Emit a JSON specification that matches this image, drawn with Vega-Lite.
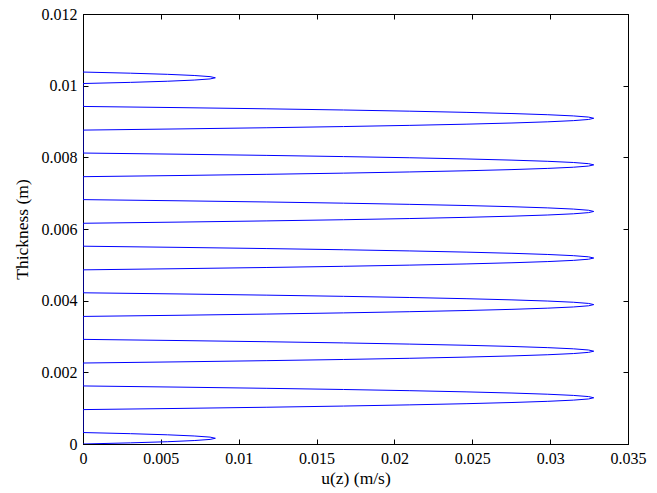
{
  "$schema": "https://vega.github.io/schema/vega-lite/v6.json",
  "width": 545,
  "height": 430,
  "autosize": "none",
  "padding": {"left": 83, "top": 14, "right": 29, "bottom": 49},
  "background": "white",
  "config": {
    "view": {"stroke": "black", "strokeWidth": 1},
    "axis": {
      "labelFontSize": 16,
      "titleFontSize": 17.5,
      "titleFontWeight": "normal",
      "labelColor": "black",
      "titleColor": "black",
      "domainColor": "black",
      "tickColor": "black",
      "grid": false,
      "tickSize": -5,
      "labelFlush": false,
      "labelOverlap": false,
      "format": "~g"
    }
  },
  "data": {"values": [
    {"z": 0, "u": 0}, {"z": 0.000032, "u": 0.00306}, {"z": 0.000064, "u": 0.00544}, {"z": 0.000096, "u": 0.00714}, {"z": 0.000128, "u": 0.00816}, {"z": 0.00016, "u": 0.0085}, {"z": 0.000192, "u": 0.00816}, {"z": 0.000224, "u": 0.00714}, {"z": 0.000256, "u": 0.00544}, {"z": 0.000288, "u": 0.00306}, {"z": 0.00032, "u": 0},
    {"z": 0.00096, "u": 0}, {"z": 0.000993, "u": 0.00623}, {"z": 0.001026, "u": 0.01181}, {"z": 0.001059, "u": 0.01673}, {"z": 0.001092, "u": 0.02099}, {"z": 0.001125, "u": 0.0246}, {"z": 0.001158, "u": 0.02755}, {"z": 0.001191, "u": 0.02985}, {"z": 0.001224, "u": 0.03149}, {"z": 0.001257, "u": 0.03247}, {"z": 0.00129, "u": 0.0328}, {"z": 0.001323, "u": 0.03247}, {"z": 0.001356, "u": 0.03149}, {"z": 0.001389, "u": 0.02985}, {"z": 0.001422, "u": 0.02755}, {"z": 0.001455, "u": 0.0246}, {"z": 0.001488, "u": 0.02099}, {"z": 0.001521, "u": 0.01673}, {"z": 0.001554, "u": 0.01181}, {"z": 0.001587, "u": 0.00623}, {"z": 0.00162, "u": 0},
    {"z": 0.00226, "u": 0}, {"z": 0.002293, "u": 0.00623}, {"z": 0.002326, "u": 0.01181}, {"z": 0.002359, "u": 0.01673}, {"z": 0.002392, "u": 0.02099}, {"z": 0.002425, "u": 0.0246}, {"z": 0.002458, "u": 0.02755}, {"z": 0.002491, "u": 0.02985}, {"z": 0.002524, "u": 0.03149}, {"z": 0.002557, "u": 0.03247}, {"z": 0.00259, "u": 0.0328}, {"z": 0.002623, "u": 0.03247}, {"z": 0.002656, "u": 0.03149}, {"z": 0.002689, "u": 0.02985}, {"z": 0.002722, "u": 0.02755}, {"z": 0.002755, "u": 0.0246}, {"z": 0.002788, "u": 0.02099}, {"z": 0.002821, "u": 0.01673}, {"z": 0.002854, "u": 0.01181}, {"z": 0.002887, "u": 0.00623}, {"z": 0.00292, "u": 0},
    {"z": 0.00356, "u": 0}, {"z": 0.003593, "u": 0.00623}, {"z": 0.003626, "u": 0.01181}, {"z": 0.003659, "u": 0.01673}, {"z": 0.003692, "u": 0.02099}, {"z": 0.003725, "u": 0.0246}, {"z": 0.003758, "u": 0.02755}, {"z": 0.003791, "u": 0.02985}, {"z": 0.003824, "u": 0.03149}, {"z": 0.003857, "u": 0.03247}, {"z": 0.00389, "u": 0.0328}, {"z": 0.003923, "u": 0.03247}, {"z": 0.003956, "u": 0.03149}, {"z": 0.003989, "u": 0.02985}, {"z": 0.004022, "u": 0.02755}, {"z": 0.004055, "u": 0.0246}, {"z": 0.004088, "u": 0.02099}, {"z": 0.004121, "u": 0.01673}, {"z": 0.004154, "u": 0.01181}, {"z": 0.004187, "u": 0.00623}, {"z": 0.00422, "u": 0},
    {"z": 0.00486, "u": 0}, {"z": 0.004893, "u": 0.00623}, {"z": 0.004926, "u": 0.01181}, {"z": 0.004959, "u": 0.01673}, {"z": 0.004992, "u": 0.02099}, {"z": 0.005025, "u": 0.0246}, {"z": 0.005058, "u": 0.02755}, {"z": 0.005091, "u": 0.02985}, {"z": 0.005124, "u": 0.03149}, {"z": 0.005157, "u": 0.03247}, {"z": 0.00519, "u": 0.0328}, {"z": 0.005223, "u": 0.03247}, {"z": 0.005256, "u": 0.03149}, {"z": 0.005289, "u": 0.02985}, {"z": 0.005322, "u": 0.02755}, {"z": 0.005355, "u": 0.0246}, {"z": 0.005388, "u": 0.02099}, {"z": 0.005421, "u": 0.01673}, {"z": 0.005454, "u": 0.01181}, {"z": 0.005487, "u": 0.00623}, {"z": 0.00552, "u": 0},
    {"z": 0.00616, "u": 0}, {"z": 0.006193, "u": 0.00623}, {"z": 0.006226, "u": 0.01181}, {"z": 0.006259, "u": 0.01673}, {"z": 0.006292, "u": 0.02099}, {"z": 0.006325, "u": 0.0246}, {"z": 0.006358, "u": 0.02755}, {"z": 0.006391, "u": 0.02985}, {"z": 0.006424, "u": 0.03149}, {"z": 0.006457, "u": 0.03247}, {"z": 0.00649, "u": 0.0328}, {"z": 0.006523, "u": 0.03247}, {"z": 0.006556, "u": 0.03149}, {"z": 0.006589, "u": 0.02985}, {"z": 0.006622, "u": 0.02755}, {"z": 0.006655, "u": 0.0246}, {"z": 0.006688, "u": 0.02099}, {"z": 0.006721, "u": 0.01673}, {"z": 0.006754, "u": 0.01181}, {"z": 0.006787, "u": 0.00623}, {"z": 0.00682, "u": 0},
    {"z": 0.00746, "u": 0}, {"z": 0.007493, "u": 0.00623}, {"z": 0.007526, "u": 0.01181}, {"z": 0.007559, "u": 0.01673}, {"z": 0.007592, "u": 0.02099}, {"z": 0.007625, "u": 0.0246}, {"z": 0.007658, "u": 0.02755}, {"z": 0.007691, "u": 0.02985}, {"z": 0.007724, "u": 0.03149}, {"z": 0.007757, "u": 0.03247}, {"z": 0.00779, "u": 0.0328}, {"z": 0.007823, "u": 0.03247}, {"z": 0.007856, "u": 0.03149}, {"z": 0.007889, "u": 0.02985}, {"z": 0.007922, "u": 0.02755}, {"z": 0.007955, "u": 0.0246}, {"z": 0.007988, "u": 0.02099}, {"z": 0.008021, "u": 0.01673}, {"z": 0.008054, "u": 0.01181}, {"z": 0.008087, "u": 0.00623}, {"z": 0.00812, "u": 0},
    {"z": 0.00876, "u": 0}, {"z": 0.008793, "u": 0.00623}, {"z": 0.008826, "u": 0.01181}, {"z": 0.008859, "u": 0.01673}, {"z": 0.008892, "u": 0.02099}, {"z": 0.008925, "u": 0.0246}, {"z": 0.008958, "u": 0.02755}, {"z": 0.008991, "u": 0.02985}, {"z": 0.009024, "u": 0.03149}, {"z": 0.009057, "u": 0.03247}, {"z": 0.00909, "u": 0.0328}, {"z": 0.009123, "u": 0.03247}, {"z": 0.009156, "u": 0.03149}, {"z": 0.009189, "u": 0.02985}, {"z": 0.009222, "u": 0.02755}, {"z": 0.009255, "u": 0.0246}, {"z": 0.009288, "u": 0.02099}, {"z": 0.009321, "u": 0.01673}, {"z": 0.009354, "u": 0.01181}, {"z": 0.009387, "u": 0.00623}, {"z": 0.00942, "u": 0},
    {"z": 0.01006, "u": 0}, {"z": 0.010092, "u": 0.00306}, {"z": 0.010124, "u": 0.00544}, {"z": 0.010156, "u": 0.00714}, {"z": 0.010188, "u": 0.00816}, {"z": 0.01022, "u": 0.0085}, {"z": 0.010252, "u": 0.00816}, {"z": 0.010284, "u": 0.00714}, {"z": 0.010316, "u": 0.00544}, {"z": 0.010348, "u": 0.00306}, {"z": 0.01038, "u": 0}
  ]},
  "layer": [
    {
      "mark": {"type": "line", "color": "#0000ff", "strokeWidth": 1, "clip": true},
      "encoding": {
        "x": {"field": "u", "type": "quantitative", "scale": {"domain": [0, 0.035], "nice": false, "zero": false},
              "axis": {"title": "u(z) (m/s)", "labelFont": "serif", "titleFont": "serif", "values": [0, 0.005, 0.01, 0.015, 0.02, 0.025, 0.03, 0.035], "labelPadding": 11, "titlePadding": 3}},
        "y": {"field": "z", "type": "quantitative", "scale": {"domain": [0, 0.012], "nice": false, "zero": false},
              "axis": {"title": "Thickness (m)", "labelFont": "serif", "titleFont": "serif", "values": [0, 0.002, 0.004, 0.006, 0.008, 0.01, 0.012], "labelPadding": 11, "titlePadding": 10}},
        "order": {"field": "z", "type": "quantitative"}
      }
    },
    {
      "mark": {"type": "line", "color": "#0000ff", "strokeWidth": 1, "opacity": 0},
      "encoding": {
        "x": {"field": "u", "type": "quantitative", "scale": {"domain": [0, 0.035], "nice": false, "zero": false},
              "axis": {"orient": "top", "title": null, "labels": false, "values": [0, 0.005, 0.01, 0.015, 0.02, 0.025, 0.03, 0.035]}},
        "y": {"field": "z", "type": "quantitative", "scale": {"domain": [0, 0.012], "nice": false, "zero": false},
              "axis": {"orient": "right", "title": null, "labels": false, "values": [0, 0.002, 0.004, 0.006, 0.008, 0.01, 0.012]}},
        "order": {"field": "z", "type": "quantitative"}
      }
    }
  ],
  "resolve": {"axis": {"x": "independent", "y": "independent"}}
}
